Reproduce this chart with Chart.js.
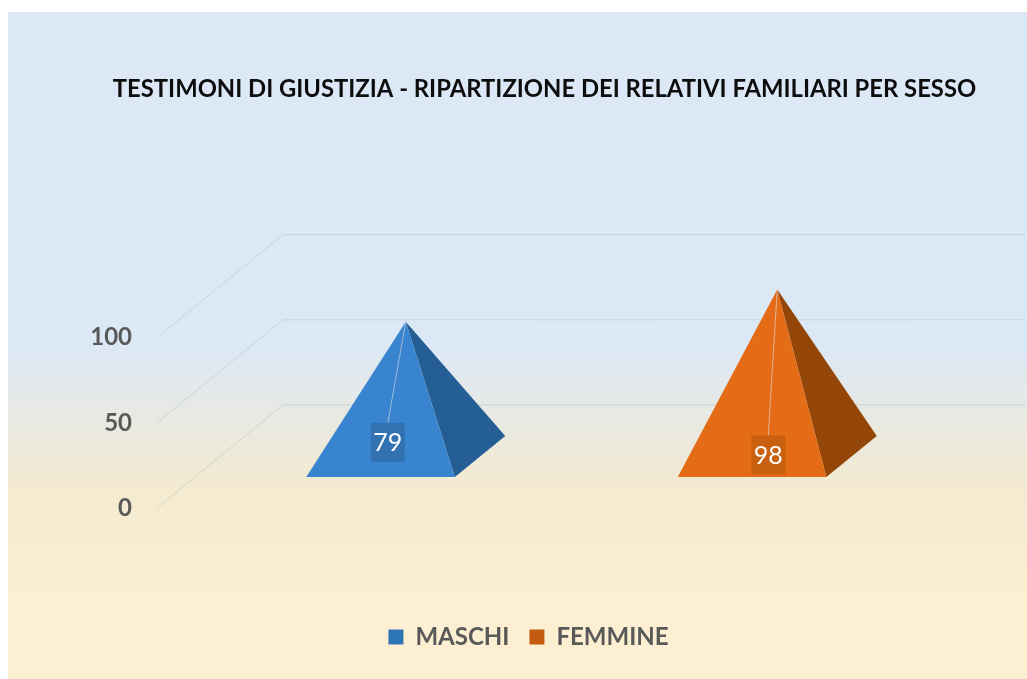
<!DOCTYPE html>
<html>
<head>
<meta charset="utf-8">
<style>
  html, body { margin: 0; padding: 0; background: #fff; }
  #sheet {
    position: absolute; left: 8px; top: 12px; right: 0; bottom: 0;
    background: linear-gradient(to bottom, #dce8f6 0%, #dce8f6 50%, #f3ead0 71%, #fdf0d2 90%, #fdf0d2 100%);
  }
  #chart { position: absolute; left: 0; top: 0; }
</style>
</head>
<body>
<div id="sheet"></div>
<canvas id="chart" width="1027" height="679"></canvas>
<script src="https://cdn.jsdelivr.net/npm/chart.js@4"></script>
<script>
const categories = ['MASCHI', 'FEMMINE'];
const values = [79, 98];
const yTicks = [0, 50, 100];

const legendColors = ['#2e75b6', '#c55a11'];
const frontColors = ['#3984cf', '#e46c17'];
const sideColors = ['#255e94', '#944608'];
const labelBoxColors = ['#3272b3', '#c9600f'];
const leaderColors = ['#9dbad6', '#e0b48f'];
// how far each data label sits below its apex
const labelDrops = [120.5, 165.5];
const labelShifts = [-18, -9];

const DEPTH_X = 126;
const DEPTH_Y = 103;
const GAP_DEPTH = 0.4;
const FONT = 'Lato, Carlito, sans-serif';

const pyramidPlugin = {
  id: 'pyramid',
  beforeDatasetsDraw(chart) {
    const { ctx, scales, chartArea } = chart;
    ctx.save();
    ctx.strokeStyle = 'rgba(190, 196, 190, 0.55)';
    ctx.lineWidth = 1;
    yTicks.forEach((tick) => {
      const y = scales.y.getPixelForValue(tick);
      ctx.beginPath();
      ctx.moveTo(chartArea.left, y);
      ctx.lineTo(chartArea.left + DEPTH_X, y - DEPTH_Y);
      ctx.lineTo(chartArea.right + DEPTH_X, y - DEPTH_Y);
      ctx.stroke();
    });
    ctx.restore();
  },
  afterDatasetsDraw(chart) {
    const { ctx } = chart;
    const bars = chart.getDatasetMeta(0).data;
    ctx.save();
    bars.forEach((bar, i) => {
      const { x, y, base, width } = bar.getProps(['x', 'y', 'base', 'width'], true);
      const cx = x + DEPTH_X / 2;
      const cy = base - DEPTH_Y / 2;
      const halfX = (DEPTH_X * GAP_DEPTH) / 2;
      const halfY = (DEPTH_Y * GAP_DEPTH) / 2;
      const apex = { x: cx, y: y - DEPTH_Y / 2 };
      const frontLeft = { x: cx - halfX - width / 2, y: cy + halfY };
      const frontRight = { x: cx - halfX + width / 2, y: cy + halfY };
      const backRight = { x: cx + halfX + width / 2, y: cy - halfY };

      ctx.fillStyle = sideColors[i];
      ctx.beginPath();
      ctx.moveTo(frontRight.x, frontRight.y);
      ctx.lineTo(backRight.x, backRight.y);
      ctx.lineTo(apex.x, apex.y);
      ctx.closePath();
      ctx.fill();

      ctx.fillStyle = frontColors[i];
      ctx.beginPath();
      ctx.moveTo(frontLeft.x, frontLeft.y);
      ctx.lineTo(frontRight.x, frontRight.y);
      ctx.lineTo(apex.x, apex.y);
      ctx.closePath();
      ctx.fill();

      const labelX = apex.x + labelShifts[i];
      const labelY = apex.y + labelDrops[i];
      ctx.strokeStyle = leaderColors[i];
      ctx.lineWidth = 1;
      ctx.beginPath();
      ctx.moveTo(apex.x, apex.y);
      ctx.lineTo(labelX, labelY - 19);
      ctx.stroke();

      ctx.fillStyle = labelBoxColors[i];
      ctx.fillRect(labelX - 17, labelY - 19.5, 34, 39);
      ctx.fillStyle = '#ffffff';
      ctx.font = `25px ${FONT}`;
      ctx.textAlign = 'center';
      ctx.textBaseline = 'middle';
      ctx.fillText(String(values[i]), labelX, labelY + 1);
    });
    ctx.restore();
  },
};

new Chart(document.getElementById('chart').getContext('2d'), {
  type: 'bar',
  data: {
    labels: categories,
    datasets: [{
      data: values,
      backgroundColor: 'transparent',
      categoryPercentage: 1,
      barPercentage: 0.4,
    }],
  },
  plugins: [pyramidPlugin],
  options: {
    responsive: false,
    animation: false,
    layout: { padding: { left: 62, right: 0, top: 0, bottom: 20 } },
    scales: {
      x: {
        grid: { display: false },
        border: { display: false },
        ticks: { display: false },
        afterFit(axis) { axis.height = 97; },
      },
      y: {
        min: 0,
        max: 100,
        afterBuildTicks(axis) { axis.ticks = yTicks.map((value) => ({ value })); },
        afterFit(axis) { axis.width = 95; },
        grid: { display: false },
        border: { display: false },
        ticks: {
          padding: 17,
          color: '#595959',
          font: { family: FONT, size: 24, weight: 'bold' },
        },
      },
      // empty axis, only keeps the plot clear of the right edge
      spacer: {
        position: 'right',
        grid: { display: false },
        border: { display: false },
        ticks: { display: false },
        afterFit(axis) { axis.width = 127; },
      },
    },
    plugins: {
      title: {
        display: true,
        text: 'TESTIMONI DI GIUSTIZIA - RIPARTIZIONE DEI RELATIVI FAMILIARI PER SESSO',
        color: '#0d0d0d',
        font: { family: FONT, size: 23.8, weight: 'bold' },
        padding: { top: 75, bottom: 234 },
      },
      legend: {
        position: 'bottom',
        fullSize: false,
        labels: {
          boxWidth: 15,
          boxHeight: 15,
          padding: 20,
          color: '#595959',
          font: { family: FONT, size: 24, weight: 'bold' },
          generateLabels: () => categories.map((text, i) => ({
            text,
            fillStyle: legendColors[i],
            strokeStyle: legendColors[i],
            lineWidth: 0,
            fontColor: '#595959',
            index: i,
          })),
        },
      },
      tooltip: { enabled: false },
    },
  },
});
</script>
</body>
</html>
